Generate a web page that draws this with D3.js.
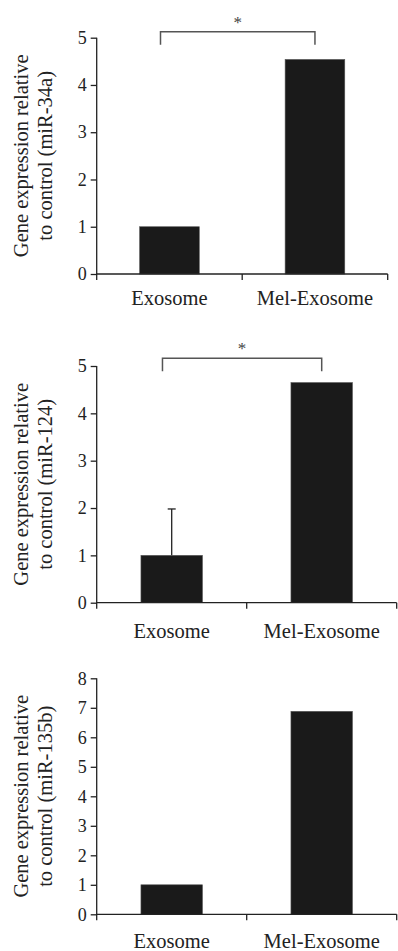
<!DOCTYPE html>
<html>
<head>
<meta charset="utf-8">
<script src="https://cdn.jsdelivr.net/npm/d3@7"></script>
<style>
  html, body { margin: 0; padding: 0; background: #fff; }
  svg { display: block; }
</style>
</head>
<body>
<svg id="chart" width="398" height="951"></svg>
<script>
// ---- data ----
const categories = ["Exosome", "Mel-Exosome"];
const miR34aValues = [1.0, 4.54];
const miR124Values = [1.0, 4.65];
const miR124ErrorUpper = [0.98, 0];
const miR135bValues = [1.0, 6.88];
const ticks5 = [0, 1, 2, 3, 4, 5];
const ticks8 = [0, 1, 2, 3, 4, 5, 6, 7, 8];
const titleLine1 = "Gene expression relative";
const titleLines2 = ["to control (miR-34a)", "to control (miR-124)", "to control (miR-135b)"];
const sigLabel = "*";

const FONT = "'Liberation Serif', 'Times New Roman', Times, 'DejaVu Serif', serif";
const svg = d3.select("#chart");

function drawPanel(opts) {
  const g = svg.append("g").attr("font-family", FONT);
  const x = d3.scaleBand().domain(categories)
    .range([opts.x0, opts.x1]).paddingInner(0.59).paddingOuter(0.295);
  const y = d3.scaleLinear().domain([0, opts.yMax]).range([opts.yBottom, opts.yTop]);

  // bars
  g.selectAll("rect.bar").data(opts.values).enter().append("rect")
    .attr("class", "bar")
    .attr("x", (d, i) => x(categories[i]))
    .attr("width", x.bandwidth())
    .attr("y", d => y(d))
    .attr("height", d => y(0) - y(d))
    .attr("fill", "#1a1a1a")
    .attr("stroke", "#555")
    .attr("stroke-width", 0.6);

  // error bars
  if (opts.err) {
    opts.err.forEach((e, i) => {
      if (!e) return;
      const cx = x(categories[i]) + x.bandwidth() / 2;
      const v = opts.values[i];
      g.append("line").attr("x1", cx).attr("x2", cx)
        .attr("y1", y(v)).attr("y2", y(v + e))
        .attr("stroke", "#222").attr("stroke-width", 1.3);
      g.append("line").attr("x1", cx - 4).attr("x2", cx + 4)
        .attr("y1", y(v + e)).attr("y2", y(v + e))
        .attr("stroke", "#222").attr("stroke-width", 1.3);
    });
  }

  // y axis
  const yAxis = d3.axisLeft(y).tickValues(opts.ticks).tickSize(6).tickPadding(4)
    .tickFormat(d3.format("d"));
  const ya = g.append("g").attr("transform", `translate(${opts.x0},0)`).call(yAxis)
    .attr("font-family", FONT).attr("font-size", 18);
  ya.select(".domain").attr("d", `M0,${opts.yTop}V${opts.yBottom + 6}`)
    .attr("stroke", "#222").attr("stroke-width", 1.3);
  ya.selectAll(".tick line").attr("stroke", "#222").attr("stroke-width", 1.3);
  ya.selectAll(".tick text").attr("fill", "#222").attr("font-family", FONT);

  // x axis: boundary ticks
  const step = x.step();
  const bounds = d3.range(categories.length + 1).map(i => opts.x0 + i * step);
  g.append("line").attr("x1", opts.x0).attr("x2", opts.x1)
    .attr("y1", y(0)).attr("y2", y(0))
    .attr("stroke", "#222").attr("stroke-width", 1.3);
  g.selectAll("line.xt").data(bounds.slice(1)).enter().append("line")
    .attr("class", "xt")
    .attr("x1", d => d).attr("x2", d => d)
    .attr("y1", y(0)).attr("y2", y(0) + 6)
    .attr("stroke", "#222").attr("stroke-width", 1.3);
  g.selectAll("text.cat").data(categories).enter().append("text")
    .attr("class", "cat")
    .attr("x", d => x(d) + x.bandwidth() / 2)
    .attr("y", y(0) + opts.labelGap)
    .attr("text-anchor", "middle")
    .attr("font-family", FONT).attr("font-size", 20.5).attr("fill", "#222")
    .text(d => d);

  // y title
  const cy = (opts.yTop + opts.yBottom) / 2;
  g.append("text")
    .attr("transform", `translate(28,${cy}) rotate(-90)`)
    .attr("text-anchor", "middle").attr("font-family", FONT).attr("font-size", 20.5).attr("fill", "#222")
    .text(titleLine1);
  g.append("text")
    .attr("transform", `translate(52,${cy}) rotate(-90)`)
    .attr("text-anchor", "middle").attr("font-family", FONT).attr("font-size", 20.5).attr("fill", "#222")
    .text(opts.title2);

  // significance bracket
  if (opts.sig) {
    const bw = x.bandwidth();
    const xl = x(categories[0]) + bw * 0.35;
    const xr = x(categories[1]) + bw * 0.5;
    const top = opts.yTop - opts.sig.above;
    g.append("path")
      .attr("d", `M${xl},${top + 13}V${top}H${xr}V${top + 13}`)
      .attr("fill", "none").attr("stroke", "#555").attr("stroke-width", 1.5);
    g.append("text")
      .attr("x", (xl + xr) / 2).attr("y", top - 4)
      .attr("text-anchor", "middle").attr("font-family", FONT).attr("font-size", 17).attr("fill", "#444")
      .text(sigLabel);
  }
}

drawPanel({ values: miR34aValues, ticks: ticks5, yMax: 5, x0: 96.7, x1: 387.7,
  yTop: 37.7, yBottom: 274, labelGap: 31, title2: titleLines2[0], sig: { above: 6 } });
drawPanel({ values: miR124Values, err: miR124ErrorUpper, ticks: ticks5, yMax: 5, x0: 96.7, x1: 396.7,
  yTop: 366, yBottom: 602.7, labelGap: 35, title2: titleLines2[1], sig: { above: 7.7 } });
drawPanel({ values: miR135bValues, ticks: ticks8, yMax: 8, x0: 96.7, x1: 396.7,
  yTop: 678.3, yBottom: 914.3, labelGap: 34, title2: titleLines2[2] });
</script>
</body>
</html>
